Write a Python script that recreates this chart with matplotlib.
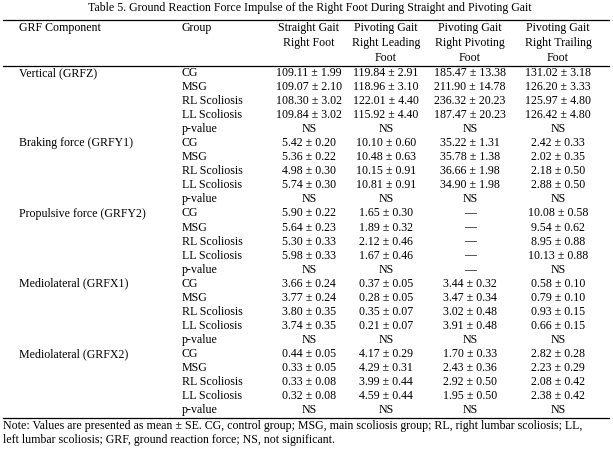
import matplotlib
matplotlib.use("Agg")
import matplotlib.pyplot as plt

plt.rcParams.update({
    "font.family": ["Liberation Serif", "DejaVu Serif"],
    "font.size": 8.6,
})

# --- Data ---
TITLE = "Table 5. Ground Reaction Force Impulse of the Right Foot During Straight and Pivoting Gait"
headers = [["Straight Gait", "Right Foot"],
           ["Pivoting Gait", "Right Leading", "Foot"],
           ["Pivoting Gait", "Right Pivoting", "Foot"],
           ["Pivoting Gait", "Right Trailing", "Foot"]]
components = ["Vertical (GRFZ)", "Braking force (GRFY1)", "Propulsive force (GRFY2)",
              "Mediolateral (GRFX1)", "Mediolateral (GRFX2)"]
groups = ["CG", "MSG", "RL Scoliosis", "LL Scoliosis", "p-value"]

straight = [
    ["109.11 ± 1.99", "109.07 ± 2.10", "108.30 ± 3.02", "109.84 ± 3.02", "NS"],
    ["5.42 ± 0.20", "5.36 ± 0.22", "4.98 ± 0.30", "5.74 ± 0.30", "NS"],
    ["5.90 ± 0.22", "5.64 ± 0.23", "5.30 ± 0.33", "5.98 ± 0.33", "NS"],
    ["3.66 ± 0.24", "3.77 ± 0.24", "3.80 ± 0.35", "3.74 ± 0.35", "NS"],
    ["0.44 ± 0.05", "0.33 ± 0.05", "0.33 ± 0.08", "0.32 ± 0.08", "NS"],
]
leading = [
    ["119.84 ± 2.91", "118.96 ± 3.10", "122.01 ± 4.40", "115.92 ± 4.40", "NS"],
    ["10.10 ± 0.60", "10.48 ± 0.63", "10.15 ± 0.91", "10.81 ± 0.91", "NS"],
    ["1.65 ± 0.30", "1.89 ± 0.32", "2.12 ± 0.46", "1.67 ± 0.46", "NS"],
    ["0.37 ± 0.05", "0.28 ± 0.05", "0.35 ± 0.07", "0.21 ± 0.07", "NS"],
    ["4.17 ± 0.29", "4.29 ± 0.31", "3.99 ± 0.44", "4.59 ± 0.44", "NS"],
]
pivoting = [
    ["185.47 ± 13.38", "211.90 ± 14.78", "236.32 ± 20.23", "187.47 ± 20.23", "NS"],
    ["35.22 ± 1.31", "35.78 ± 1.38", "36.66 ± 1.98", "34.90 ± 1.98", "NS"],
    ["—", "—", "—", "—", "—"],
    ["3.44 ± 0.32", "3.47 ± 0.34", "3.02 ± 0.48", "3.91 ± 0.48", "NS"],
    ["1.70 ± 0.33", "2.43 ± 0.36", "2.92 ± 0.50", "1.95 ± 0.50", "NS"],
]
trailing = [
    ["131.02 ± 3.18", "126.20 ± 3.33", "125.97 ± 4.80", "126.42 ± 4.80", "NS"],
    ["2.42 ± 0.33", "2.02 ± 0.35", "2.18 ± 0.50", "2.88 ± 0.50", "NS"],
    ["10.08 ± 0.58", "9.54 ± 0.62", "8.95 ± 0.88", "10.13 ± 0.88", "NS"],
    ["0.58 ± 0.10", "0.79 ± 0.10", "0.93 ± 0.15", "0.66 ± 0.15", "NS"],
    ["2.82 ± 0.28", "2.23 ± 0.29", "2.08 ± 0.42", "2.38 ± 0.42", "NS"],
]
NOTE = ["Note: Values are presented as mean ± SE. CG, control group; MSG, main scoliosis group; "
        "RL, right lumbar scoliosis; LL,",
        "left lumbar scoliosis; GRF, ground reaction force; NS, not significant."]

# --- Layout (pixel coords, y downwards) ---
W, H = 613, 453
col_x = [309, 386, 470, 558]
x_comp, x_group = 19, 182
row0, row_h = 73, 14.05
head_y = [28, 43, 58]

fig = plt.figure(figsize=(W / 100, H / 100), dpi=100)
ax = fig.add_axes([0, 0, 1, 1])
ax.set_xlim(0, W)
ax.set_ylim(H, 0)
ax.axis("off")

ax.text(310, 8.5, TITLE, ha="center", va="center")
ax.plot([3, 609], [19.5, 19.5], color="black", lw=0.9)

ax.text(x_comp, head_y[0], "GRF Component", ha="left", va="center")
ax.text(x_group, head_y[0], "Group", ha="left", va="center")
for x, lines in zip(col_x, headers):
    for y, s in zip(head_y, lines):
        ax.text(x, y, s, ha="center", va="center")
ax.plot([3, 609], [66, 66], color="black", lw=0.9)

columns = [straight, leading, pivoting, trailing]
for i, comp in enumerate(components):
    for j, grp in enumerate(groups):
        y = row0 + (i * len(groups) + j) * row_h
        if j == 0:
            ax.text(x_comp, y, comp, ha="left", va="center")
        ax.text(x_group, y, grp, ha="left", va="center")
        for x, col in zip(col_x, columns):
            ax.text(x, y, col[i][j], ha="center", va="center")

ax.plot([3, 609], [418, 418], color="black", lw=0.9)
for y, s in zip([426.5, 440.5], NOTE):
    ax.text(3, y, s, ha="left", va="center")

fig.savefig("out.png", dpi=100)
